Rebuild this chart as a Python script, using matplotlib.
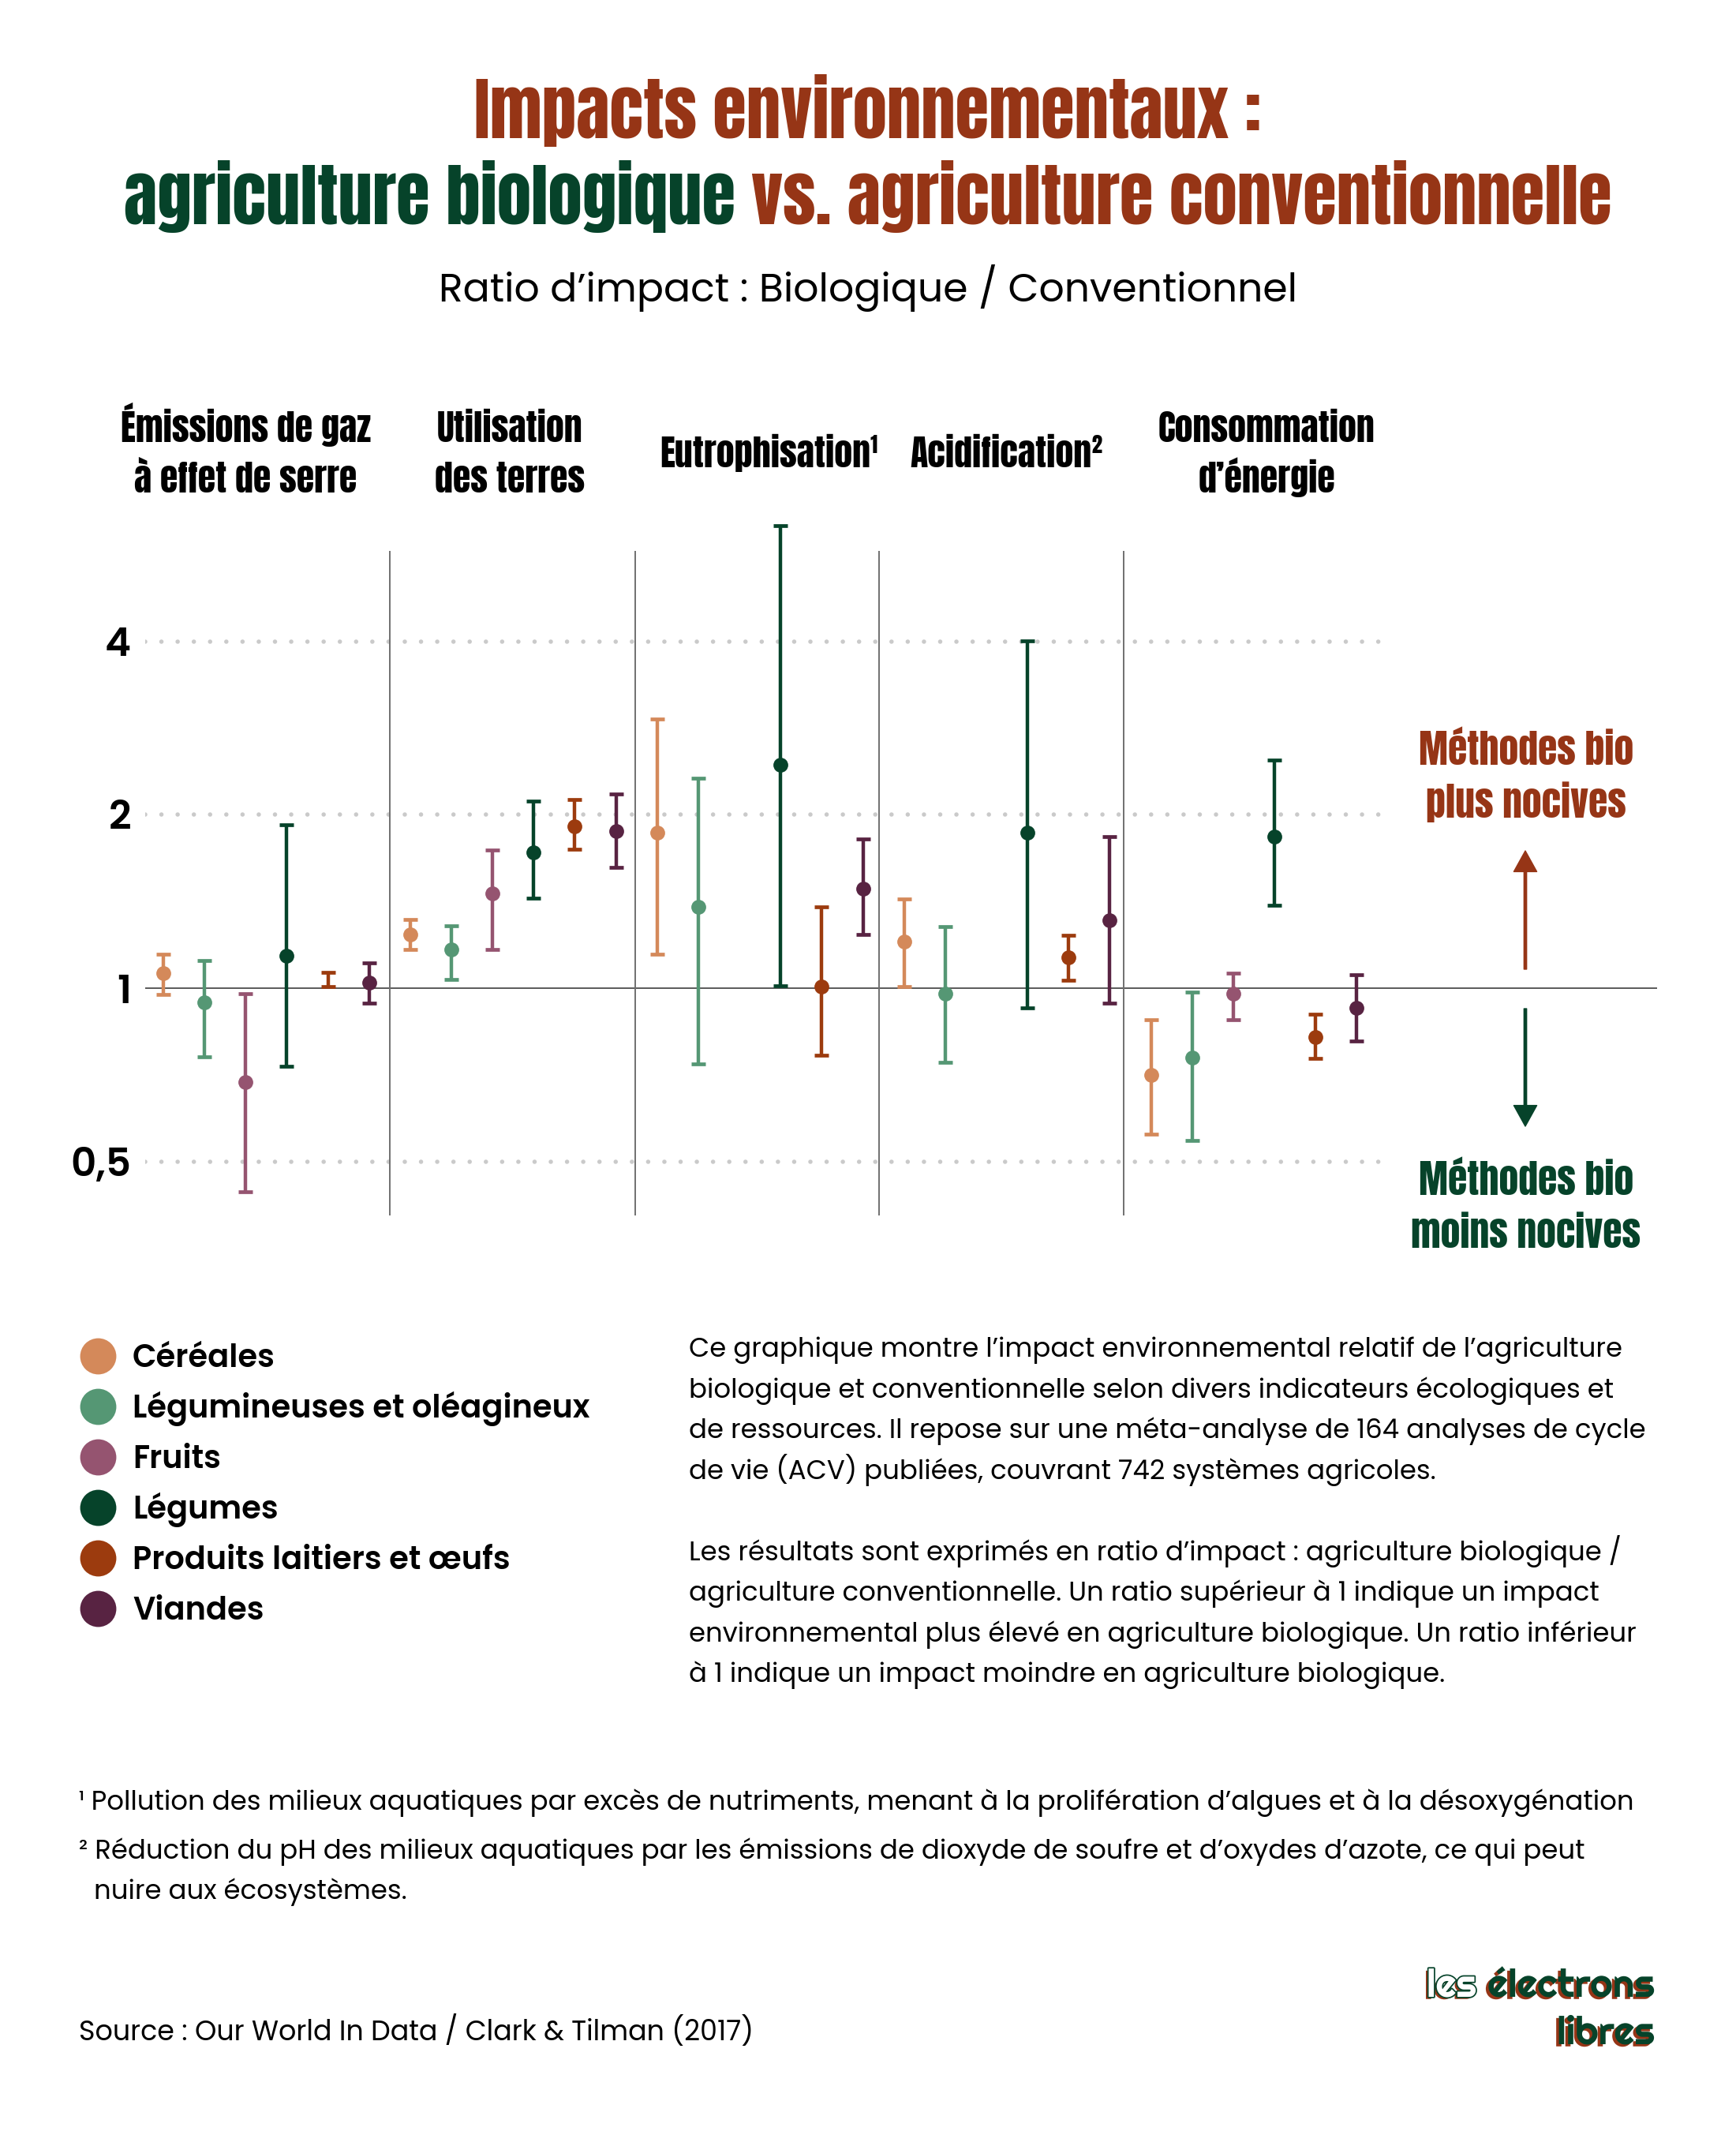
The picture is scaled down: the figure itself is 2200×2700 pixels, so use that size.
import numpy as np
import matplotlib.pyplot as plt
import matplotlib.patheffects as pe

W, H = 2200, 2700
ROUILLE = '#963516'
VERT = '#06432a'
DISPLAY = ['Anton', 'Liberation Sans Narrow', 'DejaVu Sans']
BODY = ['Poppins', 'Open Sans', 'DejaVu Sans']
LOGO = ['Righteous', 'Anton', 'DejaVu Sans']

indicateurs = ['Émissions de gaz\nà effet de serre', 'Utilisation\ndes terres',
               'Eutrophisation¹', 'Acidification²', 'Consommation\nd’énergie']
categories = ['Céréales', 'Légumineuses et oléagineux', 'Fruits', 'Légumes',
              'Produits laitiers et œufs', 'Viandes']
couleurs = ['#d4895a', '#559774', '#955470', '#06432a', '#9c3b0e', '#582342']

tick_values = [0.5, 1, 2, 4]
tick_labels = ['0,5', '1', '2', '4']

# ratio bio / conventionnel par indicateur (nan = pas de donnée)
cereales_mid = [1.062, 1.241, 1.861, 1.204, 0.707]
cereales_lo = [0.975, 1.166, 1.147, 1.007, 0.559]
cereales_hi = [1.147, 1.316, 2.93, 1.427, 0.882]

legumineuses_mid = [0.944, 1.169, 1.385, 0.977, 0.758]
legumineuses_lo = [0.760, 1.035, 0.739, 0.744, 0.544]
legumineuses_hi = [1.116, 1.283, 2.316, 1.28, 0.986]

fruits_mid = [0.688, 1.461, np.nan, np.nan, 0.977]
fruits_lo = [0.443, 1.169, np.nan, np.nan, 0.882]
fruits_hi = [0.977, 1.740, np.nan, np.nan, 1.062]

legumes_mid = [1.137, 1.723, 2.443, 1.865, 1.835]
legumes_lo = [0.732, 1.431, 1.009, 0.924, 1.391]
legumes_hi = [1.922, 2.11, 6.35, 4.01, 2.489]

# le point n'est pas dessiné pour les gaz à effet de serre dans l'original
laitiers_mid = [np.nan, 1.909, 1.007, 1.131, 0.822]
laitiers_lo = [1.006, 1.744, 0.764, 1.033, 0.755]
laitiers_hi = [1.066, 2.125, 1.385, 1.236, 0.901]

viandes_mid = [1.022, 1.874, 1.488, 1.313, 0.924]
viandes_lo = [0.942, 1.619, 1.241, 0.941, 0.809]
viandes_hi = [1.107, 2.17, 1.818, 1.835, 1.055]

mids = [cereales_mid, legumineuses_mid, fruits_mid, legumes_mid, laitiers_mid, viandes_mid]
los = [cereales_lo, legumineuses_lo, fruits_lo, legumes_lo, laitiers_lo, viandes_lo]
his = [cereales_hi, legumineuses_hi, fruits_hi, legumes_hi, laitiers_hi, viandes_hi]

paragraphe = [
    'Ce graphique montre l’impact environnemental relatif de l’agriculture',
    'biologique et conventionnelle selon divers indicateurs écologiques et',
    'de ressources. Il repose sur une méta-analyse de 164 analyses de cycle',
    'de vie (ACV) publiées, couvrant 742 systèmes agricoles.',
    '',
    'Les résultats sont exprimés en ratio d’impact : agriculture biologique /',
    'agriculture conventionnelle. Un ratio supérieur à 1 indique un impact',
    'environnemental plus élevé en agriculture biologique. Un ratio inférieur',
    'à 1 indique un impact moindre en agriculture biologique.',
]
note1 = '¹ Pollution des milieux aquatiques par excès de nutriments, menant à la prolifération d’algues et à la désoxygénation'
note2 = ['² Réduction du pH des milieux aquatiques par les émissions de dioxyde de soufre et d’oxydes d’azote, ce qui peut',
         'nuire aux écosystèmes.']
source = 'Source : Our World In Data / Clark & Tilman (2017)'

fig = plt.figure(figsize=(W / 100, H / 100), dpi=100)
fig.patch.set_facecolor('white')

# calque de texte en pixels (y vers le bas)
over = fig.add_axes([0, 0, 1, 1], zorder=5)
over.set_xlim(0, W)
over.set_ylim(H, 0)
over.axis('off')
over.patch.set_alpha(0)
r = fig.canvas.get_renderer()


def fit(s, width, **kw):
    # taille de police pour que le texte fasse `width` pixels de large
    t = over.text(0, 0, s, fontsize=50, **kw)
    w = t.get_window_extent(r).width
    t.remove()
    return 50 * width / w


# ---- graphique ----
ax = fig.add_axes([184 / W, 1 - 1545 / H, (2100 - 184) / W, (1545 - 650) / H])
ax.set_yscale('log')
ax.set_xlim(-0.44, 36.3)
ax.set_ylim(0.397, 6.68)
for s in ax.spines.values():
    s.set_visible(False)
ax.set_xticks([])
ax.set_yticks(tick_values)
ax.minorticks_off()
fs_tick = fit('0,5', 77, family=BODY, weight='semibold')
ax.set_yticklabels(tick_labels, fontsize=fs_tick, fontweight='semibold', family=BODY)
ax.tick_params(axis='y', length=0, pad=13)

for v in tick_values:
    if v == 1:
        ax.axhline(v, color='#4d4d4d', lw=1.3, zorder=1)
    else:
        ax.axhline(v, xmax=0.824, color='#cacaca', lw=4.0, ls=(0, (0.001, 3.7)),
                   dash_capstyle='round', zorder=0)

ax.vlines([5.5, 11.47, 17.4, 23.33], 0.403, 5.74, color='#707070', lw=1.4, zorder=1)

n_cat = len(categories)
for c in range(n_cat):
    x = np.arange(len(indicateurs)) * n_cat + c
    col = couleurs[c]
    ax.vlines(x, los[c], his[c], color=col, lw=3.2, zorder=3)
    ax.plot(x, los[c], ls='none', marker='_', ms=13, mew=3.4, color=col, zorder=3)
    ax.plot(x, his[c], ls='none', marker='_', ms=13, mew=3.4, color=col, zorder=3)
    ax.plot(x, mids[c], ls='none', marker='o', ms=12.5, color=col, zorder=4)

# ---- titres ----
part1 = 'agriculture biologique'
part2 = 'vs. agriculture conventionnelle'
fs_title = fit(part1 + ' ' + part2, 1887, family=DISPLAY)
tmp = over.text(0, 0, part1 + ' ' + part2, fontsize=fs_title, family=DISPLAY)
w_full = tmp.get_window_extent(r).width
tmp.remove()
x0 = W / 2 - w_full / 2
over.text(W / 2, 175, 'Impacts environnementaux :', ha='center', va='baseline',
          fontsize=fs_title, family=DISPLAY, color=ROUILLE)
over.text(x0, 284, part1, ha='left', va='baseline', fontsize=fs_title,
          family=DISPLAY, color=VERT)
over.text(x0 + w_full, 284, part2, ha='right', va='baseline', fontsize=fs_title,
          family=DISPLAY, color=ROUILLE)

subtitle = 'Ratio d’impact : Biologique / Conventionnel'
over.text(W / 2, 382, subtitle, ha='center', va='baseline',
          fontsize=fit(subtitle, 1090, family=BODY), family=BODY, color='black')

fs_head = fit('Émissions de gaz', 317, family=DISPLAY)
header_x = [311, 646, 975, 1275, 1605]
for hx, name in zip(header_x, indicateurs):
    lines = name.split('\n')
    ys = [560, 624.5] if len(lines) == 2 else [591.5]
    for ly, txt in zip(ys, lines):
        over.text(hx, ly, txt, ha='center', va='baseline', fontsize=fs_head,
                  family=DISPLAY, color='black')

# annotations droite
fs_side = fit('Méthodes bio', 272, family=DISPLAY)
for ly, txt in zip([969, 1036.5], ['Méthodes bio', 'plus nocives']):
    over.text(1934, ly, txt, ha='center', va='baseline', fontsize=fs_side,
              family=DISPLAY, color=ROUILLE)
for ly, txt in zip([1514.5, 1581], ['Méthodes bio', 'moins nocives']):
    over.text(1934, ly, txt, ha='center', va='baseline', fontsize=fs_side,
              family=DISPLAY, color=VERT)
over.annotate('', xy=(1933, 1078), xytext=(1933, 1228),
              arrowprops=dict(color=ROUILLE, width=2.4, headwidth=21, headlength=19, shrink=0))
over.annotate('', xy=(1933, 1427), xytext=(1933, 1278),
              arrowprops=dict(color=VERT, width=2.4, headwidth=21, headlength=19, shrink=0))

# légende
fs_leg = fit(categories[1], 578, family=BODY, weight='semibold')
for i, (name, col) in enumerate(zip(categories, couleurs)):
    cy = 1718 + 64 * i
    over.scatter([124], [cy], s=33 ** 2, color=col, linewidths=0)
    over.text(168, cy + 14, name, ha='left', va='baseline', fontsize=fs_leg,
              weight='semibold', family=BODY, color='black')

# texte explicatif
fs_par = fit(paragraphe[2], 1212, family=BODY)
para_y = [1719, 1770.6, 1822, 1874, None, 1976.6, 2028, 2080, 2131]
for py, line in zip(para_y, paragraphe):
    if line:
        over.text(873, py, line, ha='left', va='baseline', fontsize=fs_par,
                  family=BODY, color='black')

fs_note = fit(note1, 1968, family=BODY)
over.text(100, 2293, note1, ha='left', va='baseline', fontsize=fs_note,
          family=BODY, color='black')
over.text(100, 2355, note2[0], ha='left', va='baseline', fontsize=fs_note,
          family=BODY, color='black')
over.text(119, 2406, note2[1], ha='left', va='baseline', fontsize=fs_note,
          family=BODY, color='black')

over.text(100, 2585, source, ha='left', va='baseline',
          fontsize=fit(source, 856, family=BODY), family=BODY, color='black')

# logo
fs_logo = fit('les électrons', 289, family=LOGO)
shadow = [pe.withSimplePatchShadow(offset=(-2.5, -2), shadow_rgbFace=ROUILLE, alpha=1)]
t_el = over.text(2097, 2530, 'électrons', ha='right', va='baseline', fontsize=fs_logo,
                 family=LOGO, color=VERT, path_effects=shadow)
w_el = fit('électrons', 100, family=LOGO)
over.text(1808, 2530, 'les', ha='left', va='baseline', fontsize=fs_logo,
          family=LOGO, color='white',
          path_effects=[pe.SimplePatchShadow(offset=(-2.5, -2), shadow_rgbFace=ROUILLE, alpha=1),
                        pe.Stroke(linewidth=2.5, foreground=VERT), pe.Normal()])
over.text(2097, 2590, 'libres', ha='right', va='baseline', fontsize=fs_logo,
          family=LOGO, color=VERT, path_effects=shadow)

fig.savefig('out.png', dpi=100, facecolor='white')
